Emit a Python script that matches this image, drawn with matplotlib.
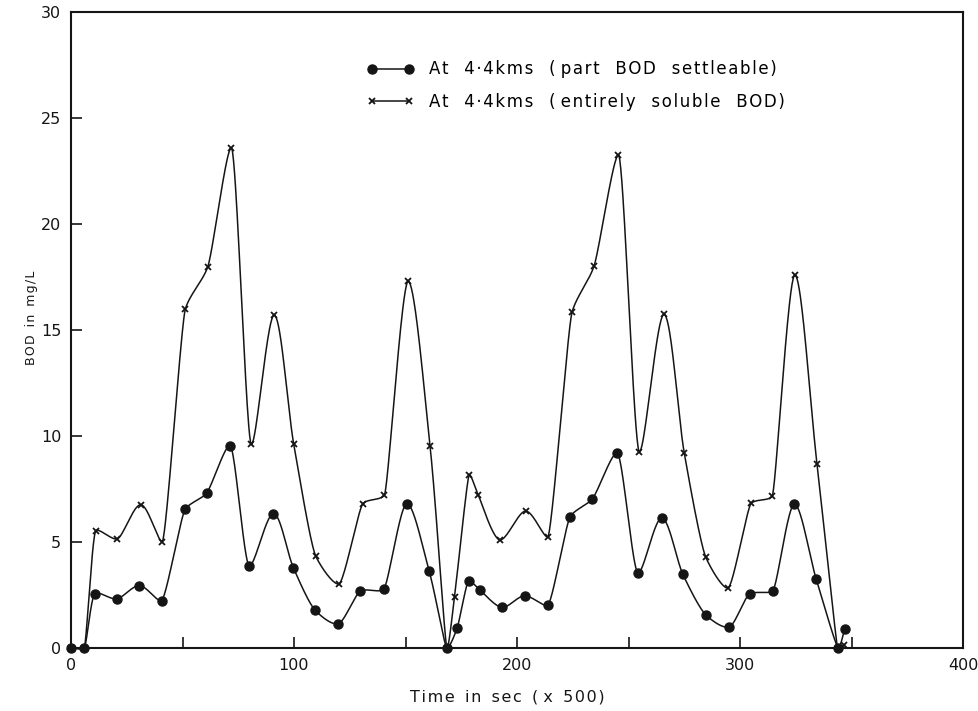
import numpy as np
import matplotlib
matplotlib.use("Agg")
import matplotlib.pyplot as plt
from matplotlib.lines import Line2D

# BOD at 4.4 km, part of the BOD settleable
time_settle = [0, 5.9, 10.8, 20.5, 30.7, 40.6, 51.2, 60.8, 71.3, 80.0, 90.8, 99.7,
               109.5, 119.8, 129.8, 140.2, 150.6, 160.6, 168.6, 173.1, 178.3, 183.3,
               193.2, 203.4, 213.8, 223.9, 233.8, 244.9, 254.3, 264.9, 274.4, 284.7,
               295.1, 304.3, 314.7, 324.4, 334.2, 344.1, 347.0]
bod_settle = [0, 0, 2.57, 2.32, 2.94, 2.24, 6.54, 7.31, 9.55, 3.87, 6.34, 3.79,
              1.78, 1.14, 2.68, 2.77, 6.81, 3.63, 0, 0.92, 3.16, 2.75,
              1.92, 2.46, 2.03, 6.20, 7.04, 9.20, 3.54, 6.13, 3.47, 1.56,
              0.99, 2.54, 2.71, 6.78, 3.24, 0, 0.89]

# BOD at 4.4 km, entirely soluble
time_soluble = [0, 5.9, 11.2, 20.8, 31.3, 40.9, 51.3, 61.3, 71.9, 80.9, 91.1, 99.9,
                109.8, 120.1, 130.9, 140.5, 151.2, 161.0, 168.6, 172.0, 178.6, 182.7,
                192.3, 203.9, 213.8, 224.7, 234.5, 245.5, 254.9, 265.9, 275.0, 284.7,
                294.6, 305.0, 314.4, 324.6, 334.5, 343.8, 346.7]
bod_soluble = [0, 0, 5.54, 5.15, 6.76, 5.02, 16.0, 17.97, 23.6, 9.6, 15.7, 9.6,
               4.32, 3.02, 6.81, 7.2, 17.3, 9.53, 0, 2.41, 8.18, 7.2,
               5.1, 6.46, 5.24, 15.85, 18.0, 23.25, 9.25, 15.74, 9.2, 4.27,
               2.83, 6.82, 7.15, 17.6, 8.7, 0, 0.13]

HS = "\u200a"  # hair space, used for letter spacing


def spaced(text, gap="   "):
    words = [HS.join(w) for w in text.split(" ")]
    return gap.join(words).replace("(" + gap, "( ")


label_settle = spaced("At 4·4kms ( part BOD settleable)")
label_soluble = spaced("At 4·4kms ( entirely soluble BOD)")

INK = "#151515"


def hermite_path(pts, n=40, k=1.0):
    # G1 Hermite curve; tangent = mean of unit chords, scaled by the shorter chord
    pts = np.asarray(pts, dtype=float)
    d = np.diff(pts, axis=0)
    L = np.maximum(np.linalg.norm(d, axis=1), 1e-9)
    u = d / L[:, None]
    m = np.empty_like(pts)
    m[0], m[-1] = u[0], u[-1]
    m[1:-1] = (u[:-1] + u[1:]) / 2
    scale = np.empty(len(pts))
    scale[0], scale[-1] = L[0], L[-1]
    scale[1:-1] = np.minimum(L[:-1], L[1:])
    s = np.linspace(0, 1, n)[:, None]
    h00 = 2 * s**3 - 3 * s**2 + 1
    h10 = s**3 - 2 * s**2 + s
    h01 = -2 * s**3 + 3 * s**2
    h11 = s**3 - s**2
    out = []
    for i in range(len(pts) - 1):
        seg = (h00 * pts[i] + h10 * k * scale[i] * m[i]
               + h01 * pts[i + 1] + h11 * k * scale[i + 1] * m[i + 1])
        out.append(seg if i == 0 else seg[1:])
    return np.vstack(out)


def smooth(ax, xs, ys):
    # build the curve in screen space so it bends like a hand-drawn one
    disp = ax.transData.transform(np.column_stack([xs, ys]))
    data = ax.transData.inverted().transform(hermite_path(disp))
    return data[:, 0], data[:, 1]


fig = plt.figure(figsize=(9.79, 7.11), dpi=100)
ax = fig.add_axes([71 / 979, 63 / 711, 892 / 979, 636 / 711])
ax.set_xlim(0, 400)
ax.set_ylim(0, 30)

sx, sy = smooth(ax, time_settle, bod_settle)
ax.plot(sx, sy, color=INK, lw=1.1, clip_on=False)
ax.plot(time_settle, bod_settle, "o", color=INK, ms=6.5, clip_on=False)

ux, uy = smooth(ax, time_soluble, bod_soluble)
ax.plot(ux, uy, color=INK, lw=1.1, clip_on=False)
ax.plot(time_soluble, bod_soluble, "x", color=INK, ms=5, mew=1.3, clip_on=False)

for s in ax.spines.values():
    s.set_linewidth(1.5)
    s.set_color(INK)

ax.set_xticks([0, 100, 200, 300, 400])
ax.set_xticks([50, 150, 250, 350], minor=True)
ax.set_yticks([0, 5, 10, 15, 20, 25, 30])
ax.tick_params(which="both", direction="in", length=8, width=1.2, colors=INK,
               labelsize=11.5, pad=7)

ax.set_xlabel(spaced("Time in sec ( x 500)", "  "), fontsize=11.5, color=INK)
ax.xaxis.set_label_coords(0.489, -0.077)
ax.xaxis.label.set_va("center")
ax.set_ylabel(spaced("BOD in mg/L", "  "), fontsize=9, color=INK)
ax.yaxis.set_label_coords(-0.044, 0.519)
ax.yaxis.label.set_va("center")

handles = [
    Line2D([], [], color=INK, lw=1.1, marker="o", ms=6.5),
    Line2D([], [], color=INK, lw=1.1, marker="x", ms=5, mew=1.3),
]
ax.legend(handles, [label_settle, label_soluble], loc="upper left",
          bbox_to_anchor=(0.332, 0.924), frameon=False, numpoints=2,
          fontsize=12, handlelength=2.8, handletextpad=0.9, labelspacing=0.85,
          borderpad=0, borderaxespad=0)

fig.savefig("out.png", dpi=100)
